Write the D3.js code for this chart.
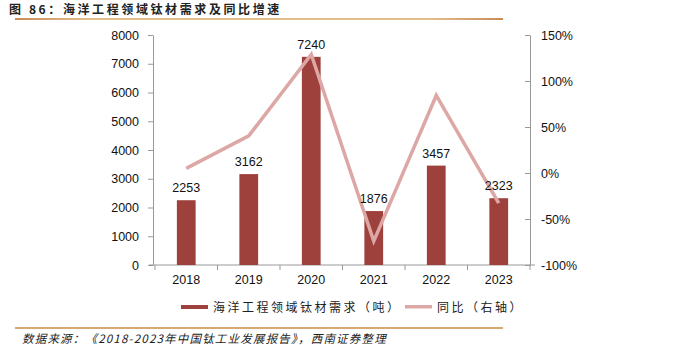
<!DOCTYPE html>
<html><head><meta charset="utf-8">
<script src="https://cdn.jsdelivr.net/npm/d3@7"></script>
<style>body{margin:0;background:#fff}svg{display:block}</style>
</head><body>
<script>
const categories = ["2018","2019","2020","2021","2022","2023"];
const demand = [2253,3162,7240,1876,3457,2323];
const yoy = [5,40.3,129,-74.1,84.3,-32.8];
const leftTicks = [0,1000,2000,3000,4000,5000,6000,7000,8000];
const rightTicks = [-100,-50,0,50,100,150];
const title = "图 86：海洋工程领域钛材需求及同比增速";
const source = "数据来源：《2018-2023年中国钛工业发展报告》，西南证券整理";
const legendBar = "海洋工程领域钛材需求（吨）";
const legendLine = "同比（右轴）";

const W=699,H=345;
const svg=d3.select("body").append("svg").attr("width",W).attr("height",H);
const font="Liberation Sans, Arial, sans-serif";
const cjk="'Noto Sans CJK SC', sans-serif";
const defs=svg.append("defs");
const g1=defs.append("linearGradient").attr("id","gl");
g1.append("stop").attr("offset","0").attr("stop-color","#C98A55");
g1.append("stop").attr("offset","0.15").attr("stop-color","#E2BE8E");
g1.append("stop").attr("offset","0.85").attr("stop-color","#E2BE8E");
g1.append("stop").attr("offset","1").attr("stop-color","#C98A55");

svg.append("text").attr("x",9).attr("y",14).attr("font-family",cjk).attr("font-size",12).attr("font-weight","bold").attr("letter-spacing",2.6).attr("fill","#222").text(title);
svg.append("rect").attr("x",15).attr("y",18).attr("width",488).attr("height",2).attr("fill","url(#gl)");
svg.append("rect").attr("x",15).attr("y",327).attr("width",488).attr("height",2).attr("fill","#D9A873");
svg.append("text").attr("x",22).attr("y",343).attr("font-family",cjk).attr("font-size",11.5).attr("font-style","italic").attr("letter-spacing",1.2).attr("fill","#222").text(source);

const x=d3.scaleBand().domain(categories).range([155,530]).paddingInner(0.7).paddingOuter(0.35);
const xb=d3.scaleBand().domain(categories).range([155,530]);
const yL=d3.scaleLinear().domain([0,8000]).range([265,35]);
const yR=d3.scaleLinear().domain([-100,150]).range([265,35]);

const axisCol="#999";
const gl=svg.append("g").attr("transform","translate(153,0)").call(d3.axisLeft(yL).tickValues(leftTicks).tickFormat(d3.format("d")).tickSize(5).tickSizeOuter(0).tickPadding(9));
const gr=svg.append("g").attr("transform","translate(530,0)").call(d3.axisRight(yR).tickValues(rightTicks).tickFormat(d=>d+"%").tickSize(5).tickSizeOuter(0).tickPadding(6));
gr.selectAll(".tick line").attr("x2",-5);
const gx=svg.append("g").attr("transform","translate(0,265)").call(d3.axisBottom(xb).tickSize(0).tickPadding(10));
const bounds=[155].concat(categories.map(c=>xb(c)+xb.bandwidth()));
svg.append("g").selectAll("line").data(bounds).join("line").attr("x1",d=>d).attr("x2",d=>d).attr("y1",265).attr("y2",270).attr("stroke",axisCol);
gx.select(".domain").attr("d","M149,0H535");
[gl,gr,gx].forEach(a=>{a.selectAll(".domain").attr("stroke",axisCol);a.selectAll(".tick line").attr("stroke",axisCol);a.selectAll("text").attr("font-family",font).attr("font-size",12.5).attr("fill","#111");});

svg.append("g").selectAll("rect").data(demand).join("rect")
 .attr("x",(d,i)=>x(categories[i])).attr("width",x.bandwidth())
 .attr("y",d=>yL(d)).attr("height",d=>265-yL(d)).attr("fill","#9E413C");

const line=d3.line().x((d,i)=>xb(categories[i])+xb.bandwidth()/2).y(d=>yR(d));
svg.append("path").datum(yoy).attr("d",line).attr("fill","none").attr("stroke","#DCA7A4").attr("stroke-width",3.5);

svg.append("g").selectAll("text").data(demand).join("text")
 .attr("x",(d,i)=>xb(categories[i])+xb.bandwidth()/2).attr("y",d=>yL(d)-8)
 .attr("text-anchor","middle").attr("font-family",font).attr("font-size",12.5).attr("fill","#111").text(d=>d);

svg.append("rect").attr("x",181).attr("y",305).attr("width",27).attr("height",4).attr("fill","#9E413C");
svg.append("text").attr("x",213).attr("y",312).attr("font-family",cjk).attr("font-size",12).attr("letter-spacing",2.5).attr("fill","#222").text(legendBar);
svg.append("rect").attr("x",405).attr("y",305).attr("width",27).attr("height",3.5).attr("fill","#DCA7A4");
svg.append("text").attr("x",437).attr("y",312).attr("font-family",cjk).attr("font-size",12).attr("letter-spacing",2.5).attr("fill","#222").text(legendLine);
</script>
</body></html>
